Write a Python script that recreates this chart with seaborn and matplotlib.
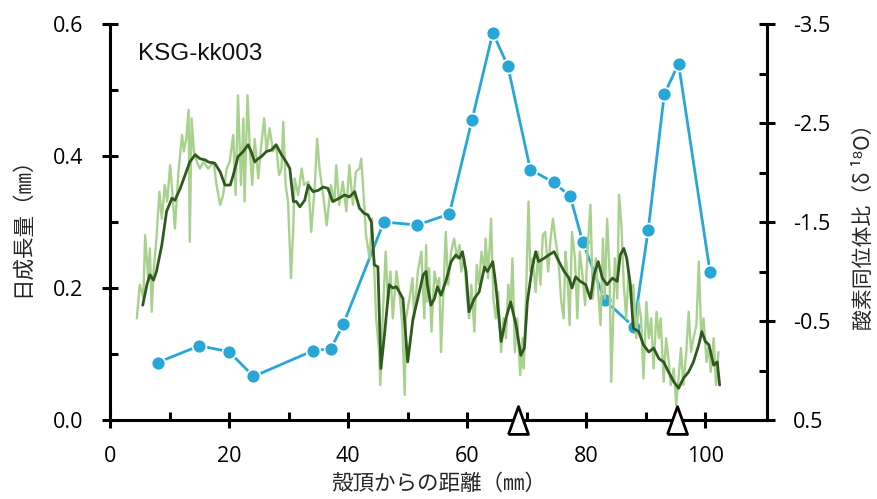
import numpy as np
import pandas as pd
import matplotlib
matplotlib.use("Agg")
import matplotlib.pyplot as plt
from matplotlib.ticker import FixedLocator, FuncFormatter
import seaborn as sns

# ---------------- data ----------------
# daily growth, raw (light green)
raw_x = [4.5, 5.0, 5.6, 5.9, 6.4, 6.7, 7.0, 7.3, 7.8, 8.3, 8.7, 9.2, 9.6, 10.1, 10.5, 10.9,
         11.5, 12.1, 12.4, 12.8, 13.2, 13.4, 13.7, 14.1, 14.6, 15.1, 15.7, 16.5, 17.4, 17.9,
         18.5, 19.0, 19.6, 20.1, 20.7, 21.1, 21.5, 22.0, 22.4, 22.6, 23.1, 23.5, 23.9, 24.3,
         24.9, 25.4, 25.9, 26.3, 26.8, 27.4, 27.9, 28.4, 28.8, 29.1, 29.5, 29.9, 30.4, 30.8,
         31.0, 31.6, 32.2, 32.6, 33.3, 33.8, 34.4, 34.8, 35.2, 35.8, 36.4, 37.1, 37.7, 38.0,
         38.5, 39.1, 39.7, 40.2, 40.8, 41.3, 41.9, 42.2, 42.7, 43.0, 43.6, 44.0, 44.4, 44.7,
         45.2, 45.4, 45.8, 46.3, 46.7, 47.1, 47.5, 48.1, 48.6, 49.1, 49.5, 49.7, 50.3, 50.8,
         51.1, 51.7, 52.3, 52.8, 53.1, 53.3, 53.6, 54.0, 54.5, 54.9, 55.3, 55.6, 56.0, 56.4,
         56.8, 57.3, 57.8, 58.3, 58.7, 59.0, 59.5, 59.9, 60.3, 60.7, 61.2, 61.6, 62.0, 62.4,
         62.9, 63.1, 63.5, 64.0, 64.4, 64.8, 65.2, 65.7, 66.1, 66.5, 66.9, 67.3, 67.6, 68.0,
         68.4, 68.9, 69.3, 69.5, 69.9, 70.3, 70.6, 71.0, 71.5, 71.9, 72.3, 72.7, 73.1, 73.6,
         74.0, 74.4, 74.8, 75.3, 75.8, 76.2, 76.5, 76.8, 77.2, 77.6, 78.1, 78.5, 78.9, 79.3,
         79.8, 80.2, 80.7, 81.1, 81.6, 82.0, 82.4, 82.8, 83.1, 83.5, 83.9, 84.2, 84.5, 84.8,
         85.2, 85.5, 85.9, 86.3, 86.7, 87.1, 87.5, 87.9, 88.4, 88.8, 89.2, 89.6, 90.1, 90.5,
         90.9, 91.3, 91.8, 92.2, 92.5, 93.0, 93.4, 93.8, 94.2, 94.7, 95.1, 95.5, 95.9, 96.3,
         96.8, 97.2, 97.6, 98.0, 98.5, 98.9, 99.3, 99.7, 100.2, 100.6, 100.9, 101.4, 101.8, 102.2]
raw_y = [0.154, 0.205, 0.185, 0.28, 0.215, 0.26, 0.164, 0.224, 0.275, 0.346, 0.305, 0.356, 0.331, 0.386, 0.341, 0.29,
         0.376, 0.432, 0.407, 0.426, 0.47, 0.27, 0.457, 0.407, 0.391, 0.381, 0.391, 0.381, 0.391, 0.356,
         0.326, 0.341, 0.381, 0.391, 0.432, 0.341, 0.492, 0.356, 0.457, 0.331, 0.492, 0.407, 0.356, 0.426,
         0.366, 0.417, 0.457, 0.407, 0.442, 0.407, 0.417, 0.371, 0.381, 0.452, 0.356, 0.331, 0.215, 0.295,
         0.366, 0.341, 0.381, 0.356, 0.361, 0.285, 0.356, 0.426, 0.381, 0.341, 0.295, 0.356, 0.331, 0.386,
         0.326, 0.361, 0.316, 0.386, 0.326, 0.376, 0.381, 0.396, 0.326, 0.28, 0.245, 0.305, 0.225, 0.154,
         0.103, 0.053, 0.154, 0.255, 0.179, 0.225, 0.154, 0.225, 0.194, 0.144, 0.038, 0.154, 0.184, 0.215,
         0.154, 0.225, 0.255, 0.154, 0.265, 0.179, 0.23, 0.134, 0.225, 0.205, 0.215, 0.103, 0.194, 0.285,
         0.205, 0.255, 0.275, 0.245, 0.265, 0.225, 0.245, 0.194, 0.154, 0.205, 0.134, 0.235, 0.205, 0.255,
         0.225, 0.275, 0.215, 0.305, 0.184, 0.154, 0.194, 0.103, 0.154, 0.124, 0.205, 0.174, 0.245, 0.103,
         0.154, 0.068, 0.124, 0.078, 0.194, 0.331, 0.225, 0.245, 0.194, 0.255, 0.205, 0.28, 0.285, 0.225,
         0.275, 0.305, 0.275, 0.245, 0.179, 0.154, 0.255, 0.225, 0.144, 0.285, 0.245, 0.154, 0.255, 0.225,
         0.174, 0.255, 0.326, 0.184, 0.245, 0.194, 0.144, 0.275, 0.184, 0.305, 0.225, 0.058, 0.154, 0.245,
         0.184, 0.341, 0.295, 0.205, 0.154, 0.225, 0.184, 0.205, 0.124, 0.179, 0.154, 0.063, 0.179, 0.124,
         0.154, 0.078, 0.164, 0.124, 0.154, 0.058, 0.124, 0.093, 0.053, 0.078, 0.023, 0.063, 0.109, 0.053,
         0.103, 0.164, 0.103, 0.124, 0.144, 0.24, 0.129, 0.154, 0.088, 0.114, 0.073, 0.124, 0.053, 0.103]

# daily growth, moving average (dark green)
avg_x = [5.5, 6.2, 6.7, 7.3, 7.8, 8.7, 9.5, 10.4, 10.9, 11.8, 12.6, 13.4, 14.3, 15.1, 16.0, 16.5,
         17.6, 18.5, 19.3, 20.2, 20.7, 21.5, 22.4, 23.2, 23.7, 24.3, 24.9, 25.4, 26.3, 27.1, 27.9,
         28.8, 29.6, 30.2, 30.8, 31.3, 31.9, 32.7, 33.3, 34.1, 35.0, 35.8, 36.6, 37.4, 38.5, 39.4,
         40.2, 41.1, 41.9, 42.7, 43.3, 43.9, 44.4, 45.0, 45.5, 46.1, 46.9, 47.5, 48.1, 49.2, 50.0,
         50.9, 51.7, 52.6, 53.1, 53.3, 53.9, 54.5, 55.0, 55.6, 56.4, 57.3, 58.1, 58.7, 59.2, 59.8,
         60.3, 61.2, 62.0, 62.9, 63.4, 64.3, 64.8, 65.7, 66.5, 67.3, 68.2, 69.0, 69.6, 70.1, 70.9,
         71.5, 72.0, 72.9, 73.7, 74.6, 75.4, 76.3, 77.1, 77.6, 78.2, 79.0, 79.9, 80.7, 81.3, 82.0,
         82.7, 83.5, 84.4, 85.2, 85.7, 86.3, 86.8, 87.4, 87.9, 88.8, 89.6, 90.5, 91.3, 92.2, 93.0,
         93.8, 94.7, 95.5, 96.3, 97.2, 98.0, 98.9, 99.4, 100.0, 100.6, 101.4, 102.0, 102.4]
avg_y = [0.174, 0.205, 0.22, 0.212, 0.225, 0.265, 0.316, 0.336, 0.333, 0.351, 0.371, 0.391, 0.402, 0.396, 0.394, 0.391,
         0.389, 0.376, 0.356, 0.356, 0.371, 0.399, 0.407, 0.417, 0.407, 0.391, 0.396, 0.399, 0.407, 0.409, 0.417,
         0.402, 0.391, 0.381, 0.331, 0.331, 0.323, 0.333, 0.356, 0.346, 0.348, 0.353, 0.351, 0.331, 0.336, 0.341,
         0.338, 0.346, 0.321, 0.313, 0.311, 0.30, 0.235, 0.232, 0.078, 0.129, 0.205, 0.20, 0.202, 0.184, 0.088,
         0.154, 0.184, 0.22, 0.225, 0.205, 0.174, 0.184, 0.202, 0.189, 0.21, 0.24, 0.25, 0.245, 0.255, 0.225,
         0.164, 0.184, 0.194, 0.232, 0.225, 0.24, 0.205, 0.119, 0.154, 0.179, 0.144, 0.098, 0.109, 0.179, 0.23,
         0.255, 0.24, 0.245, 0.25, 0.255, 0.24, 0.225, 0.215, 0.20, 0.217, 0.21, 0.205, 0.184, 0.22, 0.24,
         0.215, 0.205, 0.215, 0.21, 0.25, 0.26, 0.245, 0.205, 0.139, 0.134, 0.114, 0.103, 0.109, 0.093, 0.088,
         0.073, 0.058, 0.048, 0.063, 0.073, 0.088, 0.114, 0.134, 0.119, 0.114, 0.083, 0.088, 0.053]

# oxygen isotope ratio (blue)
iso_x = [8.0, 15.0, 20.0, 24.1, 34.1, 37.1, 39.2, 46.0, 51.6, 57.0, 60.8, 64.3, 66.8, 70.6,
         74.5, 77.3, 79.4, 83.1, 88.0, 90.4, 93.1, 95.5, 100.8]
iso_y = [-0.08, -0.25, -0.19, 0.06, -0.20, -0.22, -0.47, -1.50, -1.47, -1.58, -2.53, -3.41, -3.08, -2.03,
         -1.90, -1.76, -1.30, -0.71, -0.44, -1.42, -2.79, -3.10, -0.99]

# markers on the axis
tri_x = [68.6, 95.2]
tri_y = [0.0, 0.0]

x_ticks = [0, 20, 40, 60, 80, 100]
y_ticks = [0.0, 0.2, 0.4, 0.6]
r_ticks = [-3.5, -2.5, -1.5, -0.5, 0.5]

title_text = "KSG-kk003"
xlabel = "殻頂からの距離（㎜）"
ylabel = "日成長量（㎜）"
rlabel = "酸素同位体比（δ ¹⁸O）"

# ---------------- style ----------------
sns.set_theme(style="white")
plt.rcParams["font.family"] = ["Open Sans", "DejaVu Sans"]
cjk = ["Noto Sans CJK JP", "DejaVu Sans"]

LIGHT = "#a9d18e"
DARK = "#2f5a1e"
BLUE = "#27a7d8"

fig = plt.figure(figsize=(8.78, 4.99), dpi=100)
ax = fig.add_axes([0.1253, 0.1583, 0.8732 - 0.1253, 0.9519 - 0.1583])

raw_df = pd.DataFrame({"x": raw_x, "y": raw_y})
avg_df = pd.DataFrame({"x": avg_x, "y": avg_y})
iso_df = pd.DataFrame({"x": iso_x, "y": iso_y})

sns.lineplot(data=raw_df, x="x", y="y", ax=ax, color=LIGHT, linewidth=1.7,
             estimator=None, sort=False, zorder=2)
sns.lineplot(data=avg_df, x="x", y="y", ax=ax, color=DARK, linewidth=2.0,
             estimator=None, sort=False, zorder=3)

ax.set_xlim(0, 110.3)
ax.set_ylim(0, 0.6)
ax.xaxis.set_major_locator(FixedLocator(x_ticks))
ax.xaxis.set_minor_locator(FixedLocator([10, 30, 50, 70, 90]))
ax.yaxis.set_major_locator(FixedLocator(y_ticks))
ax.yaxis.set_minor_locator(FixedLocator([0.1, 0.3, 0.5]))
ax.yaxis.set_major_formatter(FuncFormatter(lambda v, p: f"{v:.1f}"))

for s in ["top", "right"]:
    ax.spines[s].set_visible(False)
for s in ["left", "bottom"]:
    ax.spines[s].set_linewidth(2.2)
    ax.spines[s].set_color("black")

ax.tick_params(which="major", direction="inout", length=12, width=2.2, color="black",
               labelsize=15.5, labelcolor="black")
ax.tick_params(axis="x", which="major", pad=13)
ax.tick_params(axis="y", which="major", pad=13)
ax.tick_params(which="minor", direction="in", length=6, width=2.2, color="black")
ax.tick_params(axis="x", which="both", bottom=True)
ax.tick_params(axis="y", which="both", left=True)

ax.set_xlabel(xlabel, fontsize=15.5, family=cjk, labelpad=4)
ax.set_ylabel(ylabel, fontsize=15.5, family=cjk)
ax.yaxis.set_label_coords(-0.117, 0.5)

ax.text(0.043, 0.925, title_text, transform=ax.transAxes, fontsize=17.5,
        family=["Liberation Sans", "DejaVu Sans"], ha="left", va="center", color="#111111")

# ---------------- right axis ----------------
ax2 = ax.twinx()
sns.lineplot(data=iso_df, x="x", y="y", ax=ax2, color=BLUE, linewidth=2.0,
             marker="o", markersize=10, markerfacecolor=BLUE, markeredgecolor="white",
             markeredgewidth=1.2, estimator=None, sort=False, zorder=4)
ax2.set_ylim(0.5, -3.5)
ax2.set_xlim(0, 110.3)
ax2.yaxis.set_major_locator(FixedLocator(r_ticks))
ax2.yaxis.set_minor_locator(FixedLocator([-3.0, -2.0, -1.0, 0.0]))
ax2.yaxis.set_major_formatter(FuncFormatter(lambda v, p: f"{v:.1f}".replace("\u2212", "-")))
for s in ["top", "left", "bottom"]:
    ax2.spines[s].set_visible(False)
ax2.spines["right"].set_visible(True)
ax2.spines["right"].set_linewidth(2.2)
ax2.spines["right"].set_color("black")
ax2.tick_params(axis="y", which="major", direction="inout", length=12, width=2.2,
                color="black", labelsize=15.5, labelcolor="black", pad=13, right=True)
ax2.tick_params(axis="y", which="minor", direction="in", length=6, width=2.2,
                color="black", right=True)
ax2.set_ylabel(rlabel, fontsize=15, family=cjk, rotation=90)
ax2.yaxis.set_label_coords(1.131, 0.5)
ax2.set_xlabel("")

# triangles on the x axis (drawn above everything)
tri_marker = [(-0.36, -0.5), (0.36, -0.5), (0.0, 0.5), (-0.36, -0.5)]
ax.plot(tri_x, tri_y, linestyle="none", marker=tri_marker, markersize=20,
        markerfacecolor="white", markeredgecolor="black", markeredgewidth=2.0,
        clip_on=False, zorder=10)
ax.set_zorder(ax2.get_zorder() + 1)
ax.patch.set_visible(False)

fig.savefig("out.png", dpi=100)
